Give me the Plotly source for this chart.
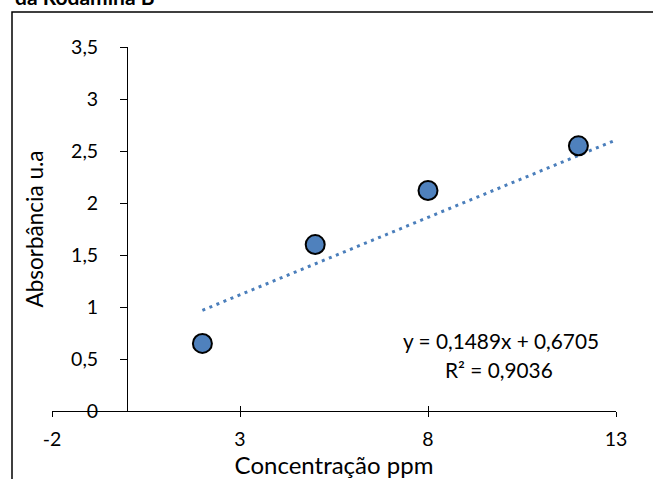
import plotly.graph_objects as go

# ---- data ----
conc = [2, 5, 8, 12]
absorb = [0.65, 1.60, 2.12, 2.55]
slope = 0.1489
intercept = 0.6705
trend_x = [2, 13]
eq_text = "y = 0,1489x + 0,6705"
r2_text = "R² = 0,9036"
title_text = "da Rodamina B"
x_title = "Concentração ppm"
y_title = "Absorbância u.a"
x_ticks = [-2, 3, 8, 13]
x_tick_labels = ["-2", "3", "8", "13"]
y_ticks = [0, 0.5, 1, 1.5, 2, 2.5, 3, 3.5]

FONT = "Lato, Carlito, Calibri, sans-serif"
W, H = 653, 479
L, R, T, B = 52, 37, 47, 68
pw = W - L - R
ph = H - T - B

def px_to_paper_x(px):
    return (px - L) / pw

def px_to_paper_y(py):
    return (H - B - py) / ph

fig = go.Figure()

fig.add_trace(go.Scatter(
    x=trend_x, y=[slope * v + intercept for v in trend_x],
    mode="lines",
    line=dict(color="#4A7EBB", width=3, dash="3px,4.6px"),
    hoverinfo="skip", showlegend=False,
))
fig.add_trace(go.Scatter(
    x=conc, y=absorb, mode="markers",
    marker=dict(size=19, color="#4F81BD", line=dict(color="#000000", width=2)),
    showlegend=False,
))
# invisible trace for overlay axis (cross ticks)
fig.add_trace(go.Scatter(x=[x_ticks[0]], y=[0], xaxis="x2", mode="markers",
                         marker=dict(opacity=0), showlegend=False, hoverinfo="skip"))

tick_font = dict(family=FONT, size=19.5, color="#000000")
xt_font = dict(family=FONT, size=24, color="#000000")
yt_font = dict(family=FONT, size=22.5, color="#000000")
ann_font = dict(family=FONT, size=20.8, color="#000000")

fig.update_layout(
    width=W, height=H,
    margin=dict(l=L, r=R, t=T, b=B),
    paper_bgcolor="white", plot_bgcolor="white",
    separators=", ",
    font=tick_font,
    xaxis=dict(
        range=[x_ticks[0], x_ticks[-1]], tickvals=x_ticks, ticktext=x_tick_labels,
        showgrid=False, zeroline=False, automargin=False,
        showline=True, linecolor="#000000", linewidth=1.3,
        ticks="outside", ticklen=5, tickcolor="#000000", tickwidth=1.3,
        tickfont=tick_font, ticklabelstandoff=5,
        title=dict(text=x_title, font=xt_font, standoff=9),
        anchor="y",
    ),
    xaxis2=dict(
        range=[x_ticks[0], x_ticks[-1]], tickvals=x_ticks,
        overlaying="x", anchor="y", side="bottom", automargin=False,
        showgrid=False, zeroline=False, showline=False,
        ticks="inside", ticklen=5, tickcolor="#000000", tickwidth=1.3,
        showticklabels=False,
    ),
    yaxis=dict(
        range=[0, 3.5], tickvals=y_ticks,
        showgrid=False, zeroline=False, automargin=False,
        showline=True, linecolor="#000000", linewidth=1.3,
        ticks="outside", ticklen=7, tickcolor="#000000", tickwidth=1.3,
        tickfont=tick_font, ticklabelstandoff=18,
        anchor="free", position=(0 - x_ticks[0]) / (x_ticks[-1] - x_ticks[0]),
        title=dict(text=y_title, font=yt_font, standoff=20),
    ),
    shapes=[dict(
        type="rect", xref="paper", yref="paper",
        x0=px_to_paper_x(12), x1=px_to_paper_x(700),
        y0=px_to_paper_y(600), y1=px_to_paper_y(12),
        line=dict(color="#000000", width=1.5), fillcolor="rgba(0,0,0,0)",
        layer="below",
    )],
    annotations=[
        dict(text=eq_text, xref="paper", yref="paper",
             x=px_to_paper_x(501), y=px_to_paper_y(340),
             xanchor="center", yanchor="middle", showarrow=False, font=ann_font),
        dict(text=r2_text, xref="paper", yref="paper",
             x=px_to_paper_x(499), y=px_to_paper_y(369),
             xanchor="center", yanchor="middle", showarrow=False, font=ann_font),
        dict(text="<b>" + title_text + "</b>", xref="paper", yref="paper",
             x=px_to_paper_x(13), y=px_to_paper_y(-4),
             xanchor="left", yanchor="middle", showarrow=False,
             font=dict(family=FONT, size=21, color="#000000")),
    ],
)

fig.write_html("out.html", config={"displayModeBar": False},
               post_script="document.body.style.margin='0';document.body.style.padding='0';")
